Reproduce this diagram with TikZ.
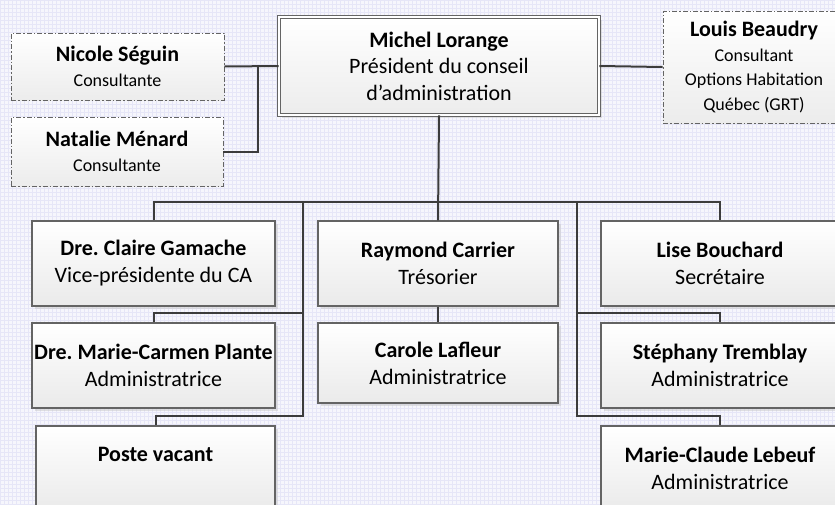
\documentclass[tikz,border=0pt]{standalone}
\usepackage{fontspec}
\setmainfont{Carlito}
\frenchspacing
\usetikzlibrary{shadows,calc}
\definecolor{bgc}{RGB}{246,246,252}
\definecolor{gridc}{RGB}{230,230,247}
\definecolor{linec}{RGB}{60,60,60}
\definecolor{boxc}{RGB}{100,100,100}
\begin{document}
\begin{tikzpicture}[x=1pt,y=-1pt,
  box/.style={draw=boxc, line width=1.1pt, top color=white, bottom color={rgb,255:red,234;green,234;blue,234},
    drop shadow={shadow xshift=2.5pt, shadow yshift=-2.5pt, fill=black!22},
    align=center, inner sep=2pt, font=\fontsize{22}{27}\selectfont},
  consult/.style={draw=boxc, line width=0.8pt, dash pattern=on 5pt off 2pt on 1.5pt off 2pt,
    top color=white, bottom color={rgb,255:red,236;green,236;blue,236},
    align=center, inner sep=2pt, font=\fontsize{18}{24.5}\selectfont},
  pres/.style={draw=boxc, line width=0.9pt, double=white, double distance=2pt,
    top color=white, bottom color={rgb,255:red,236;green,236;blue,236},
    drop shadow={shadow xshift=2.5pt, shadow yshift=-2.5pt, fill=black!22},
    align=center, inner sep=2pt, font=\fontsize{22}{26.5}\selectfont},
  conn/.style={draw=linec, line width=2pt}
]
\useasboundingbox (0,0) rectangle (835,504);
\fill[bgc] (0,0) rectangle (835,504);
\draw[gridc, line width=0.5pt] (0,0) grid[step=4pt] (835,504);

% junction points
\coordinate (j1) at (258,66);
\coordinate (jl) at (303,203);
\coordinate (jr) at (577,203);

% nodes
\node[pres, minimum width=320, minimum height=98] (michel) at (439,66)
  {\textbf{Michel Lorange}\\Président du conseil\\d’administration};
\node[consult, minimum width=213, minimum height=67] (nicole) at (117.5,66.5)
  {{\fontsize{22}{26}\selectfont\bfseries Nicole Séguin}\\Consultante};
\node[consult, minimum width=212, minimum height=69] (natalie) at (117,151.5)
  {{\fontsize{22}{26}\selectfont\bfseries Natalie Ménard}\\Consultante};
\node[consult, minimum width=182, minimum height=112] (louis) at (754,67)
  {{\fontsize{22}{26}\selectfont\bfseries Louis Beaudry}\\Consultant\\Options Habitation\\Québec (GRT)};

\node[box, minimum width=243, minimum height=85] (claire) at (153.5,263.5)
  {\textbf{Dre. Claire Gamache}\\Vice-présidente du CA};
\node[box, minimum width=240, minimum height=85] (raymond) at (438,263.5)
  {\textbf{Raymond Carrier}\\Trésorier};
\node[box, minimum width=238, minimum height=85] (lise) at (720,263.5)
  {\textbf{Lise Bouchard}\\Secrétaire};
\node[box, minimum width=243, minimum height=85] (carmen) at (153.5,365.5)
  {\textbf{Dre. Marie-Carmen Plante}\\Administratrice};
\node[box, minimum width=240, minimum height=80] (carole) at (438,363)
  {\textbf{Carole Lafleur}\\Administratrice};
\node[box, minimum width=238, minimum height=85] (steph) at (720,365.5)
  {\textbf{Stéphany Tremblay}\\Administratrice};
\node[box, minimum width=239, minimum height=85, text depth=28pt] (poste) at (155.5,468.5)
  {\textbf{Poste vacant}};
\node[box, minimum width=238, minimum height=85] (claude) at (720,468.5)
  {\textbf{Marie-Claude Lebeuf}\\Administratrice};

% connectors
\draw[conn] (nicole.east) -- (michel.west);
\draw[conn] (natalie.east) -| (j1);
\draw[conn] (michel.east) -- (louis.west);
\draw[conn] (michel.south) -- (raymond.north);
\draw[conn] (claire.north) -- ++(0,-18) -| (lise.north);
\draw[conn] (jl) |- ($(carmen.north)+(0,-9)$) -- (carmen.north);
\draw[conn] (jl) |- ($(poste.north)+(0,-9)$) -- (poste.north);
\draw[conn] (jr) |- ($(steph.north)+(0,-9)$) -- (steph.north);
\draw[conn] (jr) |- ($(claude.north)+(0,-9)$) -- (claude.north);
\draw[conn] (raymond.south) -- (carole.north);
\end{tikzpicture}
\end{document}
